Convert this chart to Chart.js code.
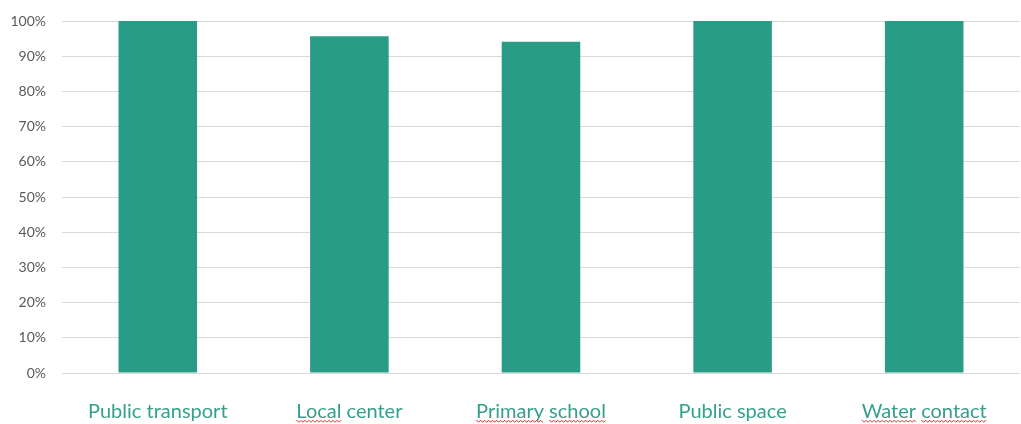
<!DOCTYPE html>
<html>
<head>
<meta charset="utf-8">
<script src="https://cdn.jsdelivr.net/npm/chart.js@4.4.0/dist/chart.umd.min.js"></script>
<style>
  body { margin: 0; background: #fff; }
</style>
</head>
<body>
<canvas id="barChart" width="1021" height="424"></canvas>
<script>
// chart data
const categories = ['Public transport', 'Local center', 'Primary school', 'Public space', 'Water contact'];
const shares = [1.0, 0.957, 0.941, 1.0, 1.0];
const yTicks = [0, 0.1, 0.2, 0.3, 0.4, 0.5, 0.6, 0.7, 0.8, 0.9, 1.0];
// words the spell checker flagged in the original (red wavy line)
const flaggedWords = ['Local', 'Primary', 'school', 'Water', 'contact'];

const labelFont = '20px Lato';
const labelPad = 27;

// draws the red squiggle under flagged words of the x labels
const squigglePlugin = {
    id: 'squiggle',
    afterDraw(chart) {
        const ctx = chart.ctx;
        const xScale = chart.scales.x;
        const y = xScale.top + labelPad + 21;
        ctx.save();
        ctx.font = labelFont;
        ctx.strokeStyle = '#e8474a';
        ctx.lineWidth = 1;
        categories.forEach((label, i) => {
            const center = xScale.getPixelForTick(i);
            const full = ctx.measureText(label).width;
            let start = center - full / 2;
            label.split(' ').forEach(word => {
                const w = ctx.measureText(word).width;
                if (flaggedWords.includes(word)) {
                    ctx.beginPath();
                    for (let x = 0; x <= w; x += 1) {
                        const yy = y + ((Math.floor(x / 2) % 2) ? 1 : -0.5);
                        if (x === 0) ctx.moveTo(start + x, yy); else ctx.lineTo(start + x, yy);
                    }
                    ctx.stroke();
                }
                start += w + ctx.measureText(' ').width;
            });
        });
        ctx.restore();
    }
};

const ctx = document.getElementById('barChart').getContext('2d');

new Chart(ctx, {
    type: 'bar',
    data: {
        labels: categories,
        datasets: [{
            data: shares,
            backgroundColor: '#289c84',
            borderWidth: 0,
            barPercentage: 0.41,
            categoryPercentage: 1
        }]
    },
    options: {
        responsive: false,
        animation: false,
        layout: { padding: { top: 21, right: 1, bottom: 0, left: 0 } },
        plugins: {
            legend: { display: false },
            tooltip: { enabled: false }
        },
        scales: {
            x: {
                afterFit(scale) { scale.height = 51; },
                grid: { display: false, drawTicks: false },
                border: { display: false },
                ticks: {
                    color: '#34a08b',
                    font: { family: 'Lato', size: 20 },
                    padding: labelPad,
                    maxRotation: 0,
                    autoSkip: false
                }
            },
            y: {
                min: 0,
                max: 1,
                afterFit(scale) {
                    scale.width = 62;
                    scale.paddingTop = 0;
                    scale.paddingBottom = 0;
                },
                afterBuildTicks(scale) { scale.ticks = yTicks.map(v => ({ value: v })); },
                grid: { color: '#d9d9d9', drawTicks: false },
                border: { display: false },
                ticks: {
                    color: '#595959',
                    font: { family: 'Lato', size: 14 },
                    padding: 16,
                    callback: v => Math.round(v * 100) + '%'
                }
            }
        }
    },
    plugins: [squigglePlugin]
});
</script>
</body>
</html>
